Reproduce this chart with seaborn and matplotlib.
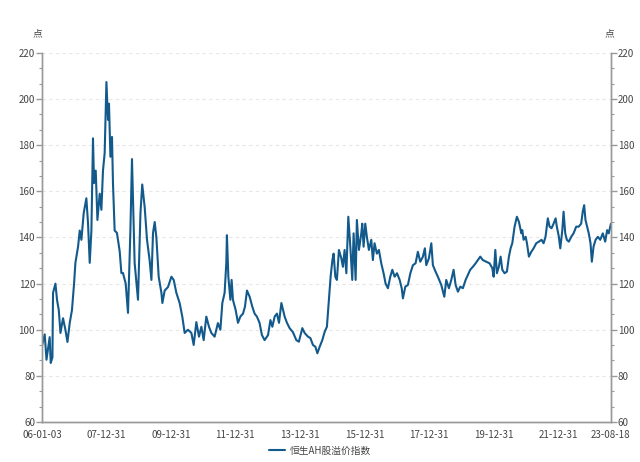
import pandas as pd
import matplotlib
matplotlib.use("Agg")
import matplotlib.pyplot as plt
import matplotlib.dates as mdates
from matplotlib.ticker import MultipleLocator
import seaborn as sns

# 恒生AH股溢价指数, 2006-01-03 ~ 2023-08-18
dates = [
    "2006-01-03", "2006-02-03", "2006-02-23", "2006-03-31", "2006-04-12", "2006-05-01",
    "2006-05-08", "2006-06-04", "2006-06-22", "2006-07-12", "2006-07-31", "2006-08-29",
    "2006-09-25", "2006-10-18", "2006-11-13", "2006-12-08", "2007-01-01", "2007-01-16",
    "2007-02-15", "2007-03-06", "2007-03-25", "2007-04-20", "2007-05-20", "2007-06-08",
    "2007-06-27", "2007-07-16", "2007-08-03", "2007-08-15", "2007-09-03", "2007-09-22",
    "2007-10-18", "2007-11-06", "2007-11-24", "2007-12-13", "2008-01-02", "2008-01-20",
    "2008-01-31", "2008-02-16", "2008-03-05", "2008-03-16", "2008-04-04", "2008-04-30",
    "2008-05-31", "2008-06-19", "2008-07-07", "2008-08-07", "2008-09-02", "2008-09-29",
    "2008-10-17", "2008-11-16", "2008-12-24", "2009-01-21", "2009-02-10", "2009-03-10",
    "2009-04-05", "2009-05-05", "2009-05-25", "2009-06-12", "2009-07-01", "2009-07-20",
    "2009-08-15", "2009-09-15", "2009-09-26", "2009-10-22", "2009-11-28", "2010-01-06",
    "2010-02-01", "2010-03-03", "2010-04-09", "2010-05-10", "2010-06-05", "2010-07-12",
    "2010-08-20", "2010-09-15", "2010-10-15", "2010-11-14", "2010-12-11", "2011-01-06",
    "2011-02-05", "2011-03-07", "2011-04-03", "2011-05-10", "2011-06-16", "2011-07-14",
    "2011-08-05", "2011-08-31", "2011-09-19", "2011-09-26", "2011-10-12", "2011-11-04",
    "2011-11-18", "2011-12-03", "2012-01-03", "2012-01-29", "2012-02-25", "2012-03-26",
    "2012-04-17", "2012-05-10", "2012-06-09", "2012-07-09", "2012-08-04", "2012-08-30",
    "2012-09-29", "2012-10-26", "2012-11-25", "2013-01-03", "2013-01-30", "2013-02-21",
    "2013-03-19", "2013-04-14", "2013-05-07", "2013-06-03", "2013-07-10", "2013-08-05",
    "2013-09-04", "2013-10-11", "2013-11-19", "2013-12-18", "2014-01-26", "2014-02-21",
    "2014-03-31", "2014-04-27", "2014-05-26", "2014-06-23", "2014-07-15", "2014-08-10",
    "2014-09-09", "2014-10-05", "2014-10-31", "2014-11-23", "2014-12-12", "2015-01-01",
    "2015-01-15", "2015-02-03", "2015-02-21", "2015-03-16", "2015-04-12", "2015-04-30",
    "2015-05-19", "2015-06-08", "2015-06-30", "2015-07-23", "2015-08-14", "2015-08-29",
    "2015-09-21", "2015-10-05", "2015-10-28", "2015-11-24", "2015-12-05", "2015-12-20",
    "2016-01-08", "2016-01-26", "2016-02-18", "2016-03-16", "2016-04-03", "2016-04-22",
    "2016-05-18", "2016-06-10", "2016-07-07", "2016-08-02", "2016-08-25", "2016-09-20",
    "2016-10-17", "2016-11-09", "2016-12-05", "2017-01-01", "2017-01-31", "2017-02-23",
    "2017-03-09", "2017-04-05", "2017-05-04", "2017-06-01", "2017-06-30", "2017-07-30",
    "2017-08-25", "2017-09-21", "2017-10-21", "2017-11-12", "2017-11-28", "2017-12-28",
    "2018-01-24", "2018-02-11", "2018-03-13", "2018-04-08", "2018-05-17", "2018-06-20",
    "2018-07-12", "2018-08-11", "2018-09-07", "2018-10-03", "2018-10-26", "2018-11-21",
    "2018-12-18", "2019-01-16", "2019-02-16", "2019-03-13", "2019-04-09", "2019-05-09",
    "2019-06-09", "2019-07-04", "2019-08-01", "2019-08-30", "2019-10-08", "2019-11-14",
    "2019-12-15", "2019-12-30", "2020-01-18", "2020-02-05", "2020-02-27", "2020-03-18",
    "2020-04-06", "2020-05-02", "2020-05-28", "2020-06-20", "2020-07-09", "2020-07-28",
    "2020-08-23", "2020-09-18", "2020-10-11", "2020-11-07", "2020-11-18", "2020-12-03",
    "2020-12-26", "2021-01-10", "2021-02-01", "2021-02-28", "2021-03-26", "2021-04-25",
    "2021-05-25", "2021-06-24", "2021-07-17", "2021-08-08", "2021-09-03", "2021-09-23",
    "2021-10-15", "2021-11-07", "2021-11-30", "2021-12-14", "2022-01-06", "2022-01-22",
    "2022-02-14", "2022-02-28", "2022-03-19", "2022-04-06", "2022-04-29", "2022-05-26",
    "2022-06-21", "2022-07-21", "2022-08-19", "2022-09-15", "2022-10-03", "2022-10-19",
    "2022-11-03", "2022-11-22", "2022-12-10", "2022-12-30", "2023-01-14", "2023-02-02",
    "2023-02-25", "2023-03-23", "2023-04-19", "2023-05-18", "2023-06-14", "2023-07-06",
    "2023-07-24", "2023-08-18",
]
values = [
    93.0, 98.0, 87.0, 96.8, 85.6, 88.0,
    116.0, 120.0, 113.0, 108.5, 98.6, 105.0,
    100.0, 94.7, 103.0, 108.5, 120.0, 129.0,
    136.0, 143.0, 139.0, 150.6, 157.0, 146.0,
    129.0, 143.0, 183.0, 163.6, 169.0, 147.6,
    159.0, 152.0, 169.0, 176.6, 207.4, 191.0,
    198.0, 175.0, 183.6, 163.6, 143.0, 142.0,
    134.0, 124.6, 124.6, 120.0, 107.3, 143.0,
    174.0, 129.0, 113.0, 150.6, 163.0, 153.0,
    139.0, 130.0, 121.6, 142.0, 146.7, 140.0,
    123.0, 116.0, 111.6, 117.0, 118.5, 123.0,
    121.6, 116.0, 111.6, 105.5, 98.6, 100.0,
    98.6, 93.4, 103.3, 97.0, 101.3, 95.5,
    105.7, 101.3, 98.6, 97.0, 102.9, 100.0,
    111.6, 116.0, 129.0, 141.0, 123.0, 113.0,
    121.6, 113.0, 108.5, 103.0, 105.7, 107.0,
    110.0, 117.0, 114.3, 110.0, 107.0, 105.7,
    103.0, 97.7, 95.5, 97.7, 104.2, 101.3,
    105.7, 107.0, 103.0, 111.6, 105.7, 103.0,
    100.7, 99.0, 95.5, 94.8, 100.7, 98.6,
    97.0, 96.4, 93.4, 92.6, 89.8, 92.6,
    95.5, 99.0, 101.3, 113.0, 123.0, 130.2,
    133.0, 123.0, 121.6, 134.6, 131.0, 127.3,
    134.6, 124.5, 149.0, 136.0, 121.6, 141.8,
    121.6, 147.6, 134.6, 141.8, 146.0, 136.0,
    146.0, 140.3, 134.6, 139.0, 130.2, 137.5,
    133.0, 134.6, 128.8, 124.5, 120.0, 118.0,
    123.0, 126.0, 123.0, 124.5, 121.6, 118.0,
    113.6, 118.7, 119.4, 124.5, 128.0, 128.8,
    133.8, 129.5, 131.7, 135.3, 128.0, 131.0,
    137.5, 128.0, 125.2, 123.0, 119.4, 114.3,
    121.6, 118.0, 121.6, 126.0, 119.4, 116.5,
    118.7, 118.0, 121.6, 123.7, 126.0, 127.3,
    128.8, 130.2, 131.7, 130.2, 129.5, 128.8,
    126.7, 123.0, 134.6, 124.5, 127.3, 131.7,
    126.0, 124.5, 125.2, 131.7, 135.3, 137.5,
    144.7, 149.0, 146.8, 141.8, 143.2, 139.0,
    140.3, 137.5, 131.7, 133.8, 135.3, 137.5,
    138.2, 139.0, 137.5, 140.3, 148.3, 144.7,
    144.0, 146.0, 148.3, 144.7, 140.3, 135.3,
    143.2, 151.2, 141.8, 139.0, 138.2, 140.3,
    141.8, 144.7, 144.7, 146.0, 151.2, 154.0,
    147.6, 144.7, 141.8, 137.5, 129.5, 136.0,
    139.0, 140.3, 139.0, 141.8, 138.2, 143.2,
    141.8, 146.0,
]

series_name = "恒生AH股溢价指数"
unit_label = "点"
tick_dates = [
    "2006-01-03", "2006-12-29", "2007-12-31", "2008-12-31", "2009-12-31", "2010-12-31",
    "2011-12-30", "2012-12-31", "2013-12-31", "2014-12-31", "2015-12-31", "2016-12-30",
    "2017-12-29", "2018-12-31", "2019-12-31", "2020-12-31", "2021-12-31", "2022-12-30",
    "2023-08-18",
]
tick_labels = [
    "06-01-03", "", "07-12-31", "", "09-12-31", "", "11-12-31", "", "13-12-31", "",
    "15-12-31", "", "17-12-31", "", "19-12-31", "", "21-12-31", "", "23-08-18",
]

df = pd.DataFrame({"date": pd.to_datetime(dates), "value": values})

sns.set_theme(style="white")
plt.rcParams["font.family"] = ["Noto Sans CJK SC", "DejaVu Sans"]

line_color = "#135a8c"
axis_color = "#999999"
text_color = "#444444"

fig = plt.figure(figsize=(6.4, 4.62), dpi=100)
ax = fig.add_axes([0.0656, 0.0866, 0.889, 0.7987])

sns.lineplot(data=df, x="date", y="value", ax=ax, color=line_color,
             linewidth=1.5, label=series_name, legend=False)

ax.set_ylim(60, 220)
ax.set_xlim(pd.Timestamp("2006-01-03"), pd.Timestamp("2023-08-18"))
ax.set_xlabel("")
ax.set_ylabel("")

ax.yaxis.set_major_locator(MultipleLocator(20))
ax.yaxis.set_minor_locator(MultipleLocator(20 / 3))
ax.grid(axis="y", which="major", color="#e6e6e6", linestyle=(0, (3, 3)), linewidth=0.8)
ax.grid(axis="x", visible=False)

ax.set_xticks(mdates.date2num(pd.to_datetime(tick_dates)))
ax.set_xticklabels(tick_labels)

ax2 = ax.twinx()
ax2.set_ylim(60, 220)
ax2.yaxis.set_major_locator(MultipleLocator(20))
ax2.yaxis.set_minor_locator(MultipleLocator(20 / 3))
ax2.grid(False)

for a in (ax, ax2):
    a.spines["top"].set_visible(False)
    for s in ("left", "right", "bottom"):
        a.spines[s].set_color(axis_color)
        a.spines[s].set_linewidth(1.0)
    a.tick_params(axis="both", which="major", length=4, width=1, color=axis_color,
                  labelsize=7, labelcolor=text_color, pad=1)
    a.tick_params(axis="y", which="minor", length=2.5, width=0.8, color=axis_color)

ax.tick_params(axis="x", which="major", length=4, pad=2)

fig.text(0.058, 0.922, unit_label, fontsize=7, color=text_color, ha="center")
fig.text(0.953, 0.922, unit_label, fontsize=7, color=text_color, ha="center")

handles, labels = ax.get_legend_handles_labels()
fig.legend(handles, labels, loc="lower center", bbox_to_anchor=(0.5, -0.005),
           frameon=False, fontsize=7, handlelength=1.6, handletextpad=0.5,
           labelcolor=text_color)

fig.savefig("out.png", dpi=100)
